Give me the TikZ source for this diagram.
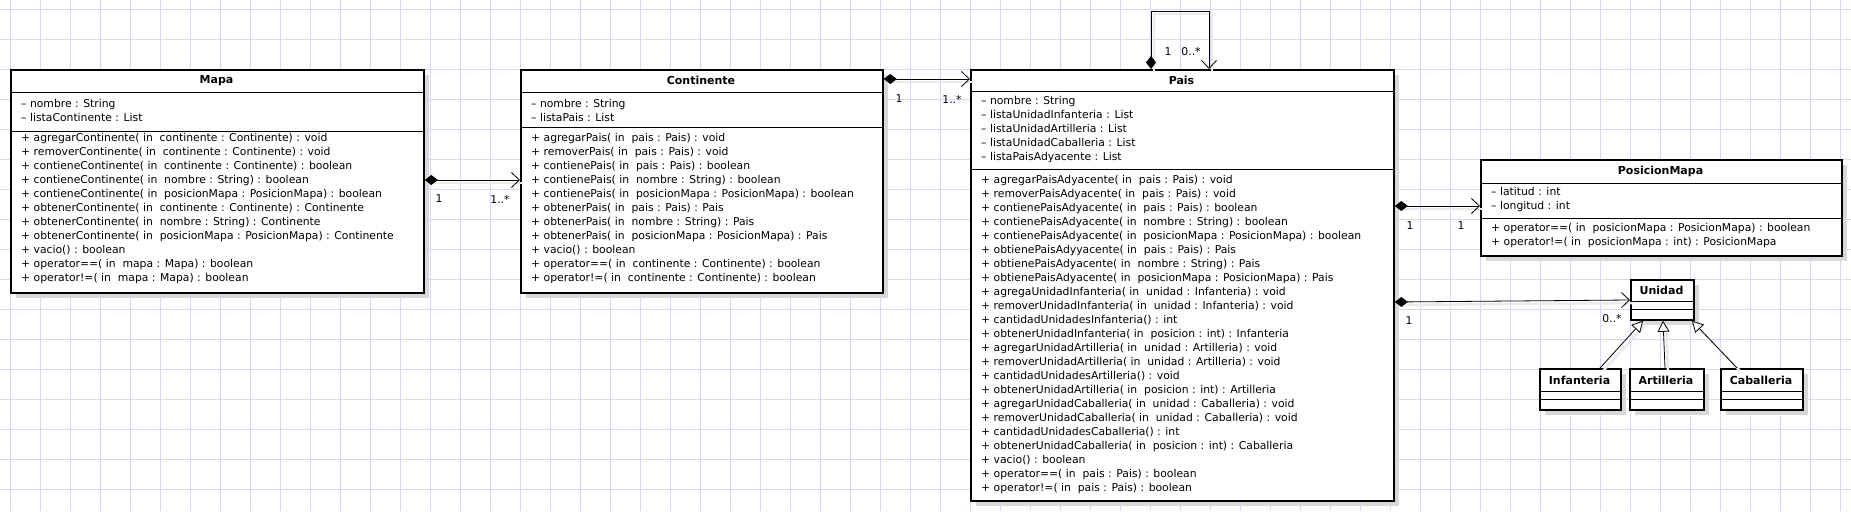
\documentclass[tikz,border=0pt]{standalone}
\usepackage{fontspec}
\setmainfont{DejaVu Sans}
\usetikzlibrary{arrows.meta,shadows}
\definecolor{gridlila}{RGB}{216,214,242}
\definecolor{sombra}{RGB}{216,216,216}
\definecolor{sombraclara}{RGB}{234,234,234}
\tikzset{
  clase/.style={draw, line width=1.8pt, fill=white, anchor=north west, inner sep=0pt,
    drop shadow={shadow xshift=5pt, shadow yshift=-5pt, fill=sombra, opacity=1}},
  titulo/.style={font=\fontsize{11pt}{14pt}\selectfont\bfseries, inner sep=0pt},
  campos/.style={font=\fontsize{10.8pt}{14pt}\selectfont, align=left, anchor=west, inner sep=0pt},
  mult/.style={font=\fontsize{10.8pt}{14pt}\selectfont, inner sep=0pt},
  sep/.style={line width=0.8pt},
  sombralinea/.style={preaction={draw=sombraclara, line width=2.5pt, arrows=-, transform canvas={shift={(3pt,-3pt)}}}},
  compo/.style={line width=0.8pt, sombralinea, arrows={Diamond[length=13pt,width=10pt]-Straight Barb[length=8pt,width=15pt]}},
  hereda/.style={line width=0.8pt, sombralinea, arrows={-Triangle[open,length=11pt,width=12pt,fill=white]}},
}
\begin{document}
\begin{tikzpicture}[x=1pt,y=-1pt]
\useasboundingbox (0,0) rectangle (1851,511);
\fill[white] (0,0) rectangle (1851,511);
% grid
\foreach \gx in {10,40,...,1850} \draw[gridlila, line width=0.7pt] (\gx,0) -- (\gx,511);
\foreach \gy in {9,39,...,509} \draw[gridlila, line width=0.7pt] (0,\gy) -- (1851,\gy);

%Mapa
\node[clase, minimum width=413, minimum height=223] (mapa) at (10,69) {};
\draw[sep] (mapa.west |- 0,92) -- (mapa.east |- 0,92);
\draw[sep] (mapa.west |- 0,131) -- (mapa.east |- 0,131);
\node[titulo] (mapa-t) at (216.5,80.5) {Mapa};
\node[campos] (mapa-a) at (21,110) {– nombre : String\\– listaContinente : List};
\node[campos] (mapa-m) at (21,209) {+ agregarContinente( in~ continente : Continente) : void\\
+ removerContinente( in~ continente : Continente) : void\\
+ contieneContinente( in~ continente : Continente) : boolean\\
+ contieneContinente( in~ nombre : String) : boolean\\
+ contieneContinente( in~ posicionMapa : PosicionMapa) : boolean\\
+ obtenerContinente( in~ continente : Continente) : Continente\\
+ obtenerContinente( in~ nombre : String) : Continente\\
+ obtenerContinente( in~ posicionMapa : PosicionMapa) : Continente\\
+ vacio() : boolean\\
+ operator==( in~ mapa : Mapa) : boolean\\
+ operator!=( in~ mapa : Mapa) : boolean};

%Continente
\node[clase, minimum width=362, minimum height=223] (continente) at (520,69) {};
\draw[sep] (continente.west |- 0,92) -- (continente.east |- 0,92);
\draw[sep] (continente.west |- 0,127) -- (continente.east |- 0,127);
\node[titulo] (continente-t) at (701,80.5) {Continente};
\node[campos] (continente-a) at (531,110) {– nombre : String\\– listaPais : List};
\node[campos] (continente-m) at (531,209) {+ agregarPais( in~ pais : Pais) : void\\
+ removerPais( in~ pais : Pais) : void\\
+ contienePais( in~ pais : Pais) : boolean\\
+ contienePais( in~ nombre : String) : boolean\\
+ contienePais( in~ posicionMapa : PosicionMapa) : boolean\\
+ obtenerPais( in~ pais : Pais) : Pais\\
+ obtenerPais( in~ nombre : String) : Pais\\
+ obtenerPais( in~ posicionMapa : PosicionMapa) : Pais\\
+ vacio() : boolean\\
+ operator==( in~ continente : Continente) : boolean\\
+ operator!=( in~ continente : Continente) : boolean};

%Pais
\node[clase, minimum width=423, minimum height=431] (pais) at (970,69) {};
\draw[sep] (pais.west |- 0,91) -- (pais.east |- 0,91);
\draw[sep] (pais.west |- 0,169) -- (pais.east |- 0,169);
\node[titulo] (pais-t) at (1181.5,80) {Pais};
\node[campos] (pais-a) at (981,130) {– nombre : String\\
– listaUnidadInfanteria : List\\
– listaUnidadArtilleria : List\\
– listaUnidadCaballeria : List\\
– listaPaisAdyacente : List};
\node[campos] (pais-m) at (981,335) {+ agregarPaisAdyacente( in~ pais : Pais) : void\\
+ removerPaisAdyacente( in~ pais : Pais) : void\\
+ contienePaisAdyacente( in~ pais : Pais) : boolean\\
+ contienePaisAdyacente( in~ nombre : String) : boolean\\
+ contienePaisAdyacente( in~ posicionMapa : PosicionMapa) : boolean\\
+ obtienePaisAdyyacente( in~ pais : Pais) : Pais\\
+ obtienePaisAdyacente( in~ nombre : String) : Pais\\
+ obtienePaisAdyacente( in~ posicionMapa : PosicionMapa) : Pais\\
+ agregaUnidadInfanteria( in~ unidad : Infanteria) : void\\
+ removerUnidadInfanteria( in~ unidad : Infanteria) : void\\
+ cantidadUnidadesInfanteria() : int\\
+ obtenerUnidadInfanteria( in~ posicion : int) : Infanteria\\
+ agregarUnidadArtilleria( in~ unidad : Artilleria) : void\\
+ removerUnidadArtilleria( in~ unidad : Artilleria) : void\\
+ cantidadUnidadesArtilleria() : void\\
+ obtenerUnidadArtilleria( in~ posicion : int) : Artilleria\\
+ agregarUnidadCaballeria( in~ unidad : Caballeria) : void\\
+ removerUnidadCaballeria( in~ unidad : Caballeria) : void\\
+ cantidadUnidadesCaballeria() : int\\
+ obtenerUnidadCaballeria( in~ posicion : int) : Caballeria\\
+ vacio() : boolean\\
+ operator==( in~ pais : Pais) : boolean\\
+ operator!=( in~ pais : Pais) : boolean};

%PosicionMapa
\node[clase, minimum width=361, minimum height=96] (posicion) at (1480,159) {};
\draw[sep] (posicion.west |- 0,183) -- (posicion.east |- 0,183);
\draw[sep] (posicion.west |- 0,218) -- (posicion.east |- 0,218);
\node[titulo] (posicion-t) at (1660.5,171) {PosicionMapa};
\node[campos] (posicion-a) at (1491,199.5) {– latitud : int\\– longitud : int};
\node[campos] (posicion-m) at (1491,236) {+ operator==( in~ posicionMapa : PosicionMapa) : boolean\\
+ operator!=( in~ posicionMapa : int) : PosicionMapa};

%Unidad y subclases
\node[clase, minimum width=63, minimum height=40] (unidad) at (1630,279) {};
\draw[sep] (unidad.west |- 0,301) -- (unidad.east |- 0,301);
\draw[sep] (unidad.west |- 0,309) -- (unidad.east |- 0,309);
\node[titulo] (unidad-t) at (1661.5,290.5) {Unidad};

\node[clase, minimum width=81, minimum height=41] (infanteria) at (1539,368) {};
\draw[sep] (infanteria.west |- 0,391) -- (infanteria.east |- 0,391);
\draw[sep] (infanteria.west |- 0,399) -- (infanteria.east |- 0,399);
\node[titulo] (infanteria-t) at (1579.5,380) {Infanteria};

\node[clase, minimum width=74, minimum height=41] (artilleria) at (1629,368) {};
\draw[sep] (artilleria.west |- 0,391) -- (artilleria.east |- 0,391);
\draw[sep] (artilleria.west |- 0,399) -- (artilleria.east |- 0,399);
\node[titulo] (artilleria-t) at (1666,380) {Artilleria};

\node[clase, minimum width=82, minimum height=41] (caballeria) at (1720,368) {};
\draw[sep] (caballeria.west |- 0,391) -- (caballeria.east |- 0,391);
\draw[sep] (caballeria.west |- 0,399) -- (caballeria.east |- 0,399);
\node[titulo] (caballeria-t) at (1761,380) {Caballeria};

%composiciones
\draw[compo] (mapa.east |- 0,180) -- (continente.west |- 0,180);
\node[mult] (m1) at (439,199) {1}; \node[mult] (m2) at (500,199) {1..*};
\draw[compo] (continente.east |- 0,79) -- (pais.west |- 0,79);
\node[mult] (m3) at (899,99) {1}; \node[mult] (m4) at (952,99) {1..*};
\draw[compo] (pais.north -| 1151,0) -- (1151,11) -| (pais.north -| 1209,0);
\node[mult] (m5) at (1168,52) {1}; \node[mult] (m6) at (1191,52) {0..*};
\draw[compo] (pais.east |- 0,206) -- (posicion.west |- 0,206);
\node[mult] (m7) at (1410,226) {1}; \node[mult] (m8) at (1461,226) {1};
\draw[compo] (pais.east |- 0,302) -- (unidad.west |- 0,300);
\node[mult] (m9) at (1409,321) {1}; \node[mult] (m10) at (1612,319) {0..*};

%herencia
\draw[hereda] (infanteria.north -| 1600,0) -- (unidad.south -| 1643,0);
\draw[hereda] (artilleria.north -| 1665,0) -- (unidad.south -| 1663,0);
\draw[hereda] (caballeria.north -| 1737,0) -- (unidad.south -| 1692,0);
\end{tikzpicture}
\end{document}
